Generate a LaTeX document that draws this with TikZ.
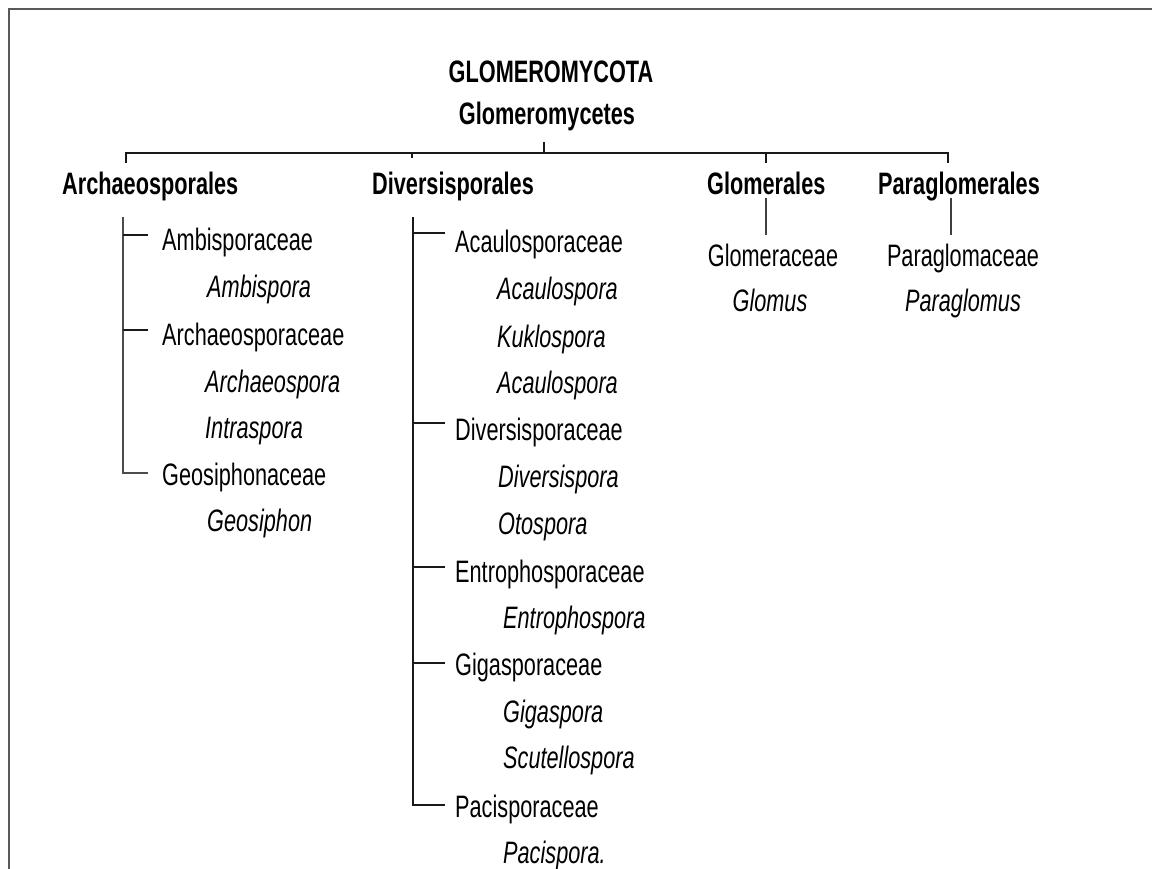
\documentclass[tikz,border=0pt]{standalone}
\usepackage{fontspec}
\setmainfont[FakeStretch=0.70]{Liberation Sans}
\usetikzlibrary{calc}
\begin{document}
\begin{tikzpicture}[x=1pt,y=-1pt,
  every node/.style={inner sep=0pt, font=\fontsize{31}{36}\selectfont, text=black},
  hdr/.style={anchor=base west, font=\fontsize{31}{36}\selectfont\bfseries},
  fam/.style={anchor=base west},
  gen/.style={anchor=base west, font=\fontsize{31}{36}\selectfont\itshape},
  link/.style={line width=2.4pt, draw=black!90},
  branch/.style={line width=2.1pt, draw=black!90},
  frame/.style={line width=2.2pt, draw=black!65}]
\useasboundingbox (0,0) rectangle (1152,869);
\draw[frame] (9,869) -- (9,9) -- (1152,9);

% title
\node[anchor=base, font=\fontsize{31}{36}\selectfont\bfseries] (phy) at (551,83) {GLOMEROMYCOTA};
\node[anchor=base, font=\fontsize{31}{36}\selectfont\bfseries] (cls) at (547,125) {Glomeromycetes};

% orders
\node[hdr] (arch) at (62,195) {Archaeosporales};
\node[hdr] (div) at (372,195) {Diversisporales};
\node[hdr] (glo) at (707,195) {Glomerales};
\node[hdr] (par) at (878,195) {Paraglomerales};

% bar
\coordinate (ctop) at (544,142);
\coordinate (cbar) at (544,153);
\coordinate (barL) at (126,153);
\coordinate (barR) at (948,153);
\coordinate (tA) at (126,163);
\coordinate (tD0) at (412,153);
\coordinate (tD) at (412,158);
\coordinate (tG0) at (766,153);
\coordinate (tG) at (766,163);
\coordinate (tP) at (948,163);
\draw[link] (tA) -- (barL) -- (barR) -- (tP);
\draw[link, line width=1.5pt] (ctop) -- (cbar);
\draw[link, line width=1.5pt] (tD0) -- (tD);
\draw[link, line width=1.5pt] (tG0) -- (tG);

% Archaeosporales
\node[fam] (amb) at (162,251) {Ambisporaceae};
\node[gen] (ambg) at (207,298) {Ambispora};
\node[fam] (arf) at (162,345) {Archaeosporaceae};
\node[gen] (arg) at (205,392) {Archaeospora};
\node[gen] (intg) at (205,438) {Intraspora};
\node[fam] (geo) at (162,485) {Geosiphonaceae};
\node[gen] (geog) at (207,531) {Geosiphon};

\coordinate (av) at (123,217);
\coordinate (bamb) at ($(amb.base west)+(-14,-16)$);
\coordinate (barf) at ($(arf.base west)+(-14,-15)$);
\coordinate (bgeo) at ($(geo.base west)+(-14,-12)$);
\draw[branch, draw=black!70] (av) |- (bgeo);
\draw[branch] (av |- bamb) -- (bamb);
\draw[branch] (av |- barf) -- (barf);

% Diversisporales
\node[fam] (acf) at (455,253) {Acaulosporaceae};
\node[gen] (acg1) at (497,300) {Acaulospora};
\node[gen] (kug) at (497,347) {Kuklospora};
\node[gen] (acg2) at (497,393) {Acaulospora};
\node[fam] (dvf) at (455,440) {Diversisporaceae};
\node[gen] (dvg) at (498,487) {Diversispora};
\node[gen] (otg) at (498,534) {Otospora};
\node[fam] (enf) at (455,582) {Entrophosporaceae};
\node[gen] (eng) at (503,628) {Entrophospora};
\node[fam] (gif) at (455,675) {Gigasporaceae};
\node[gen] (gig) at (503,722) {Gigaspora};
\node[gen] (scg) at (503,768) {Scutellospora};
\node[fam] (paf) at (455,817) {Pacisporaceae};
\node[gen] (pag) at (503,863) {Pacispora.};

\coordinate (dv) at (413,217);
\coordinate (bacf) at ($(acf.base west)+(-10,-20)$);
\coordinate (bdvf) at ($(dvf.base west)+(-10,-17)$);
\coordinate (benf) at ($(enf.base west)+(-10,-15)$);
\coordinate (bgif) at ($(gif.base west)+(-10,-12)$);
\coordinate (bpaf) at ($(paf.base west)+(-10,-12)$);
\draw[branch] (dv) |- (bpaf);
\draw[branch] (dv |- bacf) -- (bacf);
\draw[branch] (dv |- bdvf) -- (bdvf);
\draw[branch] (dv |- benf) -- (benf);
\draw[branch] (dv |- bgif) -- (bgif);

% Glomerales
\node[anchor=base] (glf) at (773,267) {Glomeraceae};
\node[anchor=base, font=\fontsize{31}{36}\selectfont\itshape] (glg) at (770,312) {Glomus};
\coordinate (gv1) at (766,198);
\coordinate (gv2) at (766,235);
\draw[branch, line width=1.6pt, draw=black!75] (gv1) -- (gv2);

% Paraglomerales
\node[anchor=base] (pgf) at (963,267) {Paraglomaceae};
\node[anchor=base, font=\fontsize{31}{36}\selectfont\itshape] (pgg) at (963,312) {Paraglomus};
\coordinate (pv1) at (951,198);
\coordinate (pv2) at (951,235);
\draw[branch, line width=1.6pt, draw=black!75] (pv1) -- (pv2);
\end{tikzpicture}
\end{document}
